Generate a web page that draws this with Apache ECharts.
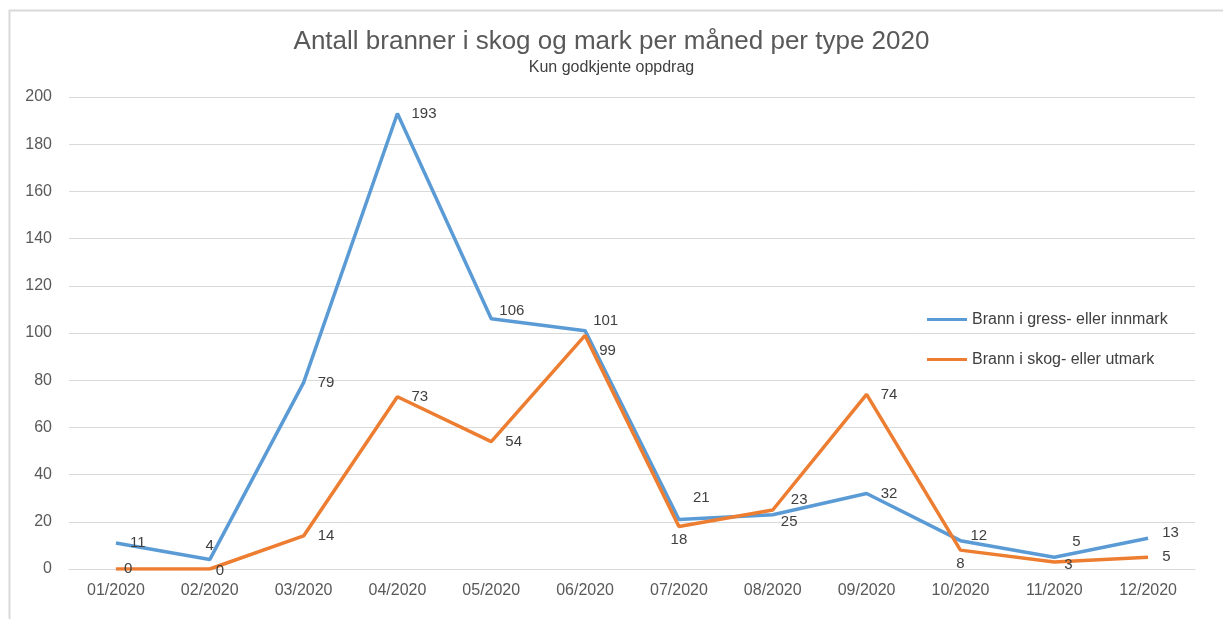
<!DOCTYPE html>
<html>
<head>
<meta charset="utf-8">
<script src="https://cdn.jsdelivr.net/npm/echarts@6/dist/echarts.min.js"></script>
<style>
  html, body { margin: 0; padding: 0; background: #fff; }
  #chart { width: 1223px; height: 619px; }
</style>
</head>
<body>
<div id="chart"></div>
<script>
const months = ['01/2020', '02/2020', '03/2020', '04/2020', '05/2020', '06/2020',
  '07/2020', '08/2020', '09/2020', '10/2020', '11/2020', '12/2020'];
const gressInnmark = [11, 4, 79, 193, 106, 101, 21, 23, 32, 12, 5, 13];
const skogUtmark = [0, 0, 14, 73, 54, 99, 18, 25, 74, 8, 3, 5];

// label nudges (dx, dy in px) so numbers sit where Excel put them
const blueLabelShift = {
  4: [-6, -8],
  5: [-6, -10],
  6: [0, -22],
  7: [4, -15],
  9: [-4, -5],
  10: [4, -15],
  11: [0, -5],
};
const orangeLabelShift = {
  0: [-6, 0],
  1: [-8, 2],
  5: [0, 15],
  7: [-6, 12],
  10: [-4, 3],
};
const blueLabelPos = { 1: 'top' };
const orangeLabelPos = { 6: 'bottom', 9: 'bottom' };

const toData = (values, posMap) =>
  values.map((v, i) => (posMap[i] ? { value: v, label: { position: posMap[i], distance: 6 } } : v));

const font = '"Liberation Sans", Arial, sans-serif';
const chart = echarts.init(document.getElementById('chart'));

const lineSeries = (name, values, posMap, shift, color) => ({
  name,
  type: 'line',
  data: toData(values, posMap),
  symbol: 'circle',
  symbolSize: 0.1,
  showSymbol: true,
  lineStyle: { width: 3.5, color },
  itemStyle: { color },
  label: {
    show: true,
    position: 'right',
    distance: 14,
    color: '#404040',
    fontSize: 15,
    fontFamily: font,
  },
  labelLayout: (p) => {
    const s = shift[p.dataIndex];
    return s ? { dx: s[0], dy: s[1], hideOverlap: false } : { hideOverlap: false };
  },
});

chart.setOption({
  animation: false,
  textStyle: { fontFamily: font },
  title: {
    text: 'Antall branner i skog og mark per måned per type 2020',
    subtext: 'Kun godkjente oppdrag',
    left: 'center',
    top: 24,
    itemGap: 5,
    textStyle: { fontSize: 26, fontWeight: 'normal', color: '#595959', fontFamily: font },
    subtextStyle: { fontSize: 16, color: '#404040', fontFamily: font },
  },
  legend: {
    orient: 'vertical',
    left: 922,
    top: 306,
    itemWidth: 40,
    itemHeight: 3,
    itemGap: 23,
    icon: 'rect',
    textStyle: { fontSize: 16, color: '#404040', lineHeight: 17, fontFamily: font },
    data: ['Brann i gress- eller innmark', 'Brann i skog- eller utmark'],
  },
  grid: { left: 69, right: 28, top: 97, bottom: 50 },
  xAxis: {
    type: 'category',
    data: months,
    boundaryGap: true,
    axisLine: { lineStyle: { color: '#d9d9d9', width: 1 } },
    axisTick: { show: false },
    axisLabel: { color: '#595959', fontSize: 16, margin: 14 },
  },
  yAxis: {
    type: 'value',
    min: 0,
    max: 200,
    interval: 20,
    axisLine: { show: false },
    axisTick: { show: false },
    axisLabel: { color: '#595959', fontSize: 16, margin: 17 },
    splitLine: { lineStyle: { color: '#d9d9d9', width: 1 } },
  },
  graphic: [{
    type: 'rect',
    left: 7,
    top: 8,
    shape: { width: 1400, height: 800 },
    style: { fill: 'none', stroke: '#d9d9d9', lineWidth: 2 },
    silent: true,
  }],
  series: [
    lineSeries('Brann i gress- eller innmark', gressInnmark, blueLabelPos, blueLabelShift, '#5B9BD5'),
    lineSeries('Brann i skog- eller utmark', skogUtmark, orangeLabelPos, orangeLabelShift, '#ED7D31'),
  ],
});
</script>
</body>
</html>
